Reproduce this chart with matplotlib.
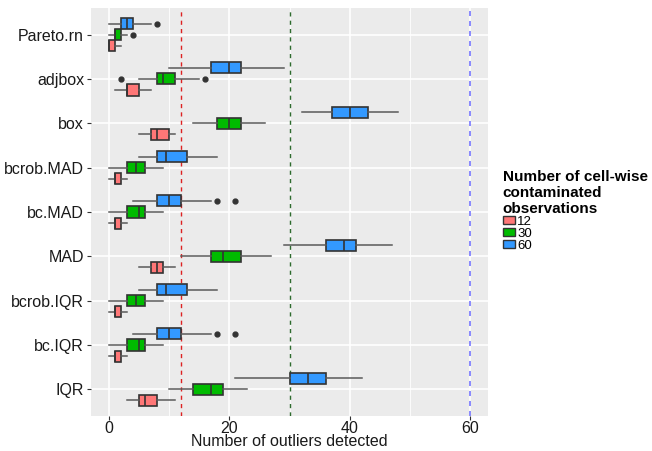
import matplotlib
matplotlib.use("Agg")
import matplotlib.pyplot as plt
from matplotlib.patches import Patch

plt.rcParams["font.family"] = ["Liberation Sans", "DejaVu Sans"]

# methods from bottom to top
methods = ["IQR", "bc.IQR", "bcrob.IQR", "MAD", "bc.MAD", "bcrob.MAD",
           "box", "adjbox", "Pareto.rn"]
groups = ["12", "30", "60"]
colors = ["#FF7777", "#00BB00", "#3399FF"]

# five-number summaries per group (whisker low, q1, median, q3, whisker high)
lo_12 = [3, 0, 0, 5, 0, 0, 5, 1, 0]
q1_12 = [5, 1, 1, 7, 1, 1, 7, 3, 0]
med_12 = [6, 1, 1, 8, 1, 1, 8, 3, 0]
q3_12 = [8, 2, 2, 9, 2, 2, 10, 5, 1]
hi_12 = [11, 3, 3, 11, 3, 3, 11, 7, 2]
out_12 = [[], [], [], [], [], [], [], [], []]

lo_30 = [10, 0, 0, 12, 0, 0, 14, 5, 0]
q1_30 = [14, 3, 3, 17, 3, 3, 18, 8, 1]
med_30 = [17, 5, 4.5, 19, 5, 4.5, 20, 9, 1]
q3_30 = [19, 6, 6, 22, 6, 6, 22, 11, 2]
hi_30 = [23, 9, 9, 27, 9, 9, 26, 15, 3]
out_30 = [[], [], [], [], [], [], [], [2, 16], [4]]

lo_60 = [21, 4, 5, 29, 4, 5, 32, 10, 0]
q1_60 = [30, 8, 8, 36, 8, 8, 37, 17, 2]
med_60 = [33, 10, 9.5, 39, 10, 9.5, 40, 20, 3]
q3_60 = [36, 12, 13, 41, 12, 13, 43, 22, 4]
hi_60 = [42, 17, 18, 47, 17, 18, 48, 29, 7]
out_60 = [[], [18, 21], [], [], [18, 21], [], [], [], [8]]

summaries = [
    (lo_12, q1_12, med_12, q3_12, hi_12, out_12),
    (lo_30, q1_30, med_30, q3_30, hi_30, out_30),
    (lo_60, q1_60, med_60, q3_60, hi_60, out_60),
]
offsets = [-0.25, 0.0, 0.25]

fig = plt.figure(figsize=(6.52, 4.51), dpi=100)
ax = fig.add_axes([0.1396, 0.0776, 0.6089, 0.9047])
ax.set_facecolor("#EBEBEB")

# grid
for x in [10, 30, 50]:
    ax.axvline(x, color="white", lw=0.6, zorder=0)
for x in [0, 20, 40, 60]:
    ax.axvline(x, color="white", lw=1.2, zorder=0)
for y in range(1, len(methods) + 1):
    ax.axhline(y, color="white", lw=1.2, zorder=0)

for (lo, q1, med, q3, hi, out), off, col in zip(summaries, offsets, colors):
    stats = []
    for i in range(len(methods)):
        stats.append({"whislo": lo[i], "q1": q1[i], "med": med[i],
                      "q3": q3[i], "whishi": hi[i], "fliers": out[i]})
    pos = [i + 1 + off for i in range(len(methods))]
    ax.bxp(stats, positions=pos, widths=0.25, orientation="horizontal",
           patch_artist=True, showcaps=False, manage_ticks=False,
           boxprops=dict(facecolor=col, edgecolor="#333333", linewidth=1.2),
           medianprops=dict(color="#333333", linewidth=1.2),
           whiskerprops=dict(color="#5a5a5a", linewidth=1.1),
           flierprops=dict(marker="o", markersize=3.5,
                           markerfacecolor="#333333",
                           markeredgecolor="#333333"),
           zorder=3)

# reference lines
ax.axvline(12, color="#DD2222", ls=(0, (3, 3)), lw=1.0, zorder=2)
ax.axvline(30, color="#2E6B2E", ls=(0, (3, 3)), lw=1.0, zorder=2)
ax.axvline(60, color="#5555FF", ls=(0, (3, 3)), lw=1.2, alpha=0.8, zorder=2)

ax.set_xlim(-3, 63)
ax.set_ylim(0.4, len(methods) + 0.6)
ax.set_xticks([0, 20, 40, 60])
ax.set_yticks(range(1, len(methods) + 1))
ax.set_yticklabels(methods)
for s in ax.spines.values():
    s.set_visible(False)
ax.tick_params(axis="both", length=3, color="#333333", labelsize=11.5,
               labelcolor="#1a1a1a", pad=2)
ax.tick_params(axis="x", pad=0.5)
ax.set_xlabel("Number of outliers detected", fontsize=11.5,
              color="#1a1a1a", labelpad=-1)

handles = [Patch(facecolor=c, edgecolor="#333333", linewidth=1.0) for c in colors]
leg = fig.legend(handles, groups,
                 title="Number of cell-wise\ncontaminated\nobservations",
                 loc="upper left", bbox_to_anchor=(0.767, 0.63),
                 frameon=False, fontsize=9.5, title_fontsize=11,
                 handlelength=0.9, handleheight=0.5, handletextpad=0.2,
                 labelspacing=0.0, borderpad=0.2, borderaxespad=0,
                 alignment="left")
leg.get_title().set_fontweight("bold")

fig.savefig("out.png", dpi=100)
